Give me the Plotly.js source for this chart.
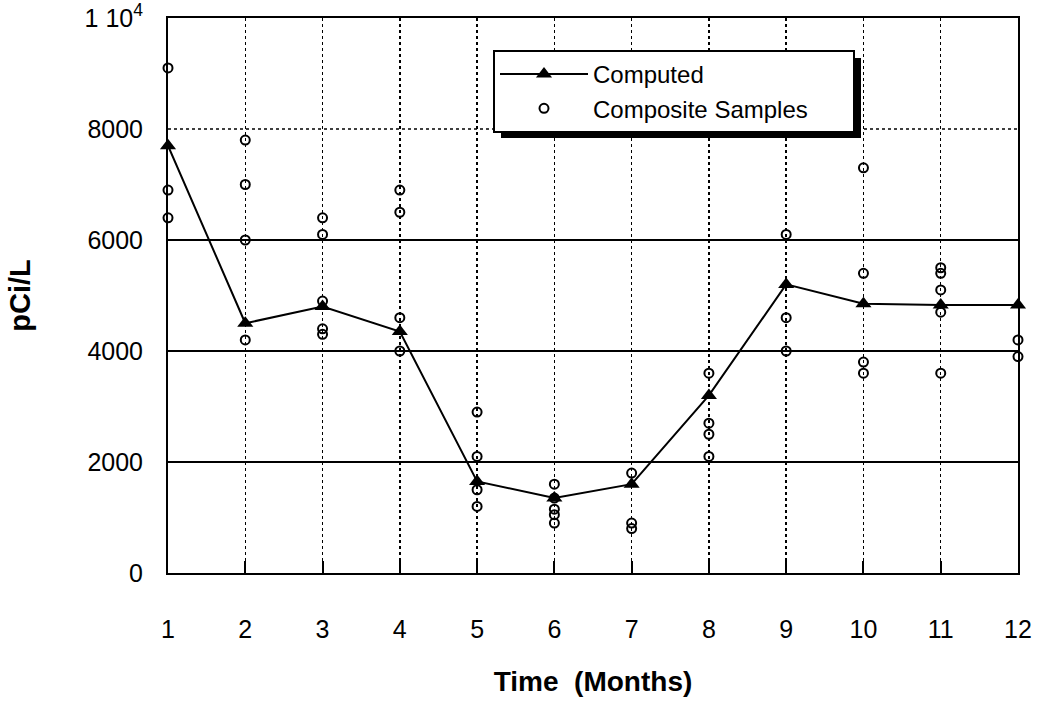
<!DOCTYPE html>
<html>
<head>
<meta charset="utf-8">
<script src="https://cdn.plot.ly/plotly-3.0.1.min.js"></script>
<style>
  html, body { margin: 0; padding: 0; background: #ffffff; }
  #chart { width: 1043px; height: 702px; }
</style>
</head>
<body>
<div id="chart"></div>
<script>
// ---- Data ----
const months = [1, 2, 3, 4, 5, 6, 7, 8, 9, 10, 11, 12];
const computed = [7700, 4500, 4800, 4350, 1650, 1350, 1600, 3200, 5200, 4850, 4830, 4830];

const samplesM1 = [9100, 6900, 6400];
const samplesM2 = [7800, 7000, 6000, 4200];
const samplesM3 = [6400, 6100, 4900, 4400, 4300];
const samplesM4 = [6900, 6500, 4600, 4000];
const samplesM5 = [2900, 2100, 1500, 1200];
const samplesM6 = [1600, 1350, 1150, 1050, 900];
const samplesM7 = [1800, 900, 800];
const samplesM8 = [3600, 2700, 2500, 2100];
const samplesM9 = [6100, 4600, 4000];
const samplesM10 = [7300, 5400, 3800, 3600];
const samplesM11 = [5500, 5400, 5100, 4700, 3600];
const samplesM12 = [4200, 3900];

const yTickVals = [0, 2000, 4000, 6000, 8000, 10000];
const yTickText = ['0', '2000', '4000', '6000', '8000', '1 10<sup>4</sup>'];
const xTickVals = months;
const solidGridY = [2000, 4000, 6000];
const dottedGridY = [8000];

// ---- Build sample scatter arrays ----
const sampleGroups = [samplesM1, samplesM2, samplesM3, samplesM4, samplesM5, samplesM6,
                      samplesM7, samplesM8, samplesM9, samplesM10, samplesM11, samplesM12];
const sampleX = [], sampleY = [];
sampleGroups.forEach((g, i) => g.forEach(v => { sampleX.push(months[i]); sampleY.push(v); }));

const FONT = 'Liberation Sans, Arial, Helvetica, sans-serif';
const LEGEND_BOX_WIDTH = 360;

const traces = [
  {
    x: months, y: computed, name: 'Computed', type: 'scatter', mode: 'lines+markers',
    line: { color: '#000', width: 2 },
    marker: { symbol: 'triangle-up', size: 14, color: '#000' },
    cliponaxis: false
  },
  {
    x: sampleX, y: sampleY, name: 'Composite Samples', type: 'scatter', mode: 'markers',
    marker: { symbol: 'circle-open', size: 9, color: '#000', line: { width: 2, color: '#000' } },
    cliponaxis: false
  }
];

const shapes = [];
solidGridY.forEach(v => shapes.push({
  type: 'line', xref: 'paper', yref: 'y', x0: 0, x1: 1, y0: v, y1: v,
  line: { color: '#000', width: 2 }, layer: 'below'
}));
dottedGridY.forEach(v => shapes.push({
  type: 'line', xref: 'paper', yref: 'y', x0: 0, x1: 1, y0: v, y1: v,
  line: { color: '#000', width: 1.5, dash: 'dot' }, layer: 'below'
}));

const layout = {
  width: 1043, height: 702,
  paper_bgcolor: '#fff', plot_bgcolor: '#fff',
  margin: { l: 168, r: 25, t: 18, b: 129 },
  font: { family: FONT, color: '#000', size: 25 },
  showlegend: true,
  legend: {
    x: (493 - 168) / 850, y: (573 - 50) / 555, xanchor: 'left', yanchor: 'top',
    bgcolor: '#fff', bordercolor: '#000', borderwidth: 2,
    font: { family: FONT, size: 24, color: '#000' },
    itemwidth: 88, tracegroupgap: 0
  },
  xaxis: {
    range: [1, 12], tickvals: xTickVals, ticktext: xTickVals.map(String),
    ticks: 'inside', ticklen: 12, tickwidth: 2, tickcolor: '#000',
    showgrid: true, gridcolor: '#000', gridwidth: 1.5, griddash: 'dot',
    showline: true, linecolor: '#000', linewidth: 2, mirror: true,
    zeroline: false, ticklabelstandoff: 33,
    tickfont: { family: FONT, size: 25, color: '#000' },
    title: { text: 'Time  (Months)', font: { family: FONT, size: 28, color: '#000', weight: 'bold' }, standoff: 29 }
  },
  yaxis: {
    range: [0, 10000], tickvals: yTickVals, ticktext: yTickText,
    ticks: '', showgrid: false,
    showline: true, linecolor: '#000', linewidth: 2, mirror: true,
    zeroline: false, ticklabelstandoff: 18,
    tickfont: { family: FONT, size: 25, color: '#000' },
    title: { text: 'pCi/L', font: { family: FONT, size: 29, color: '#000', weight: 'bold' }, standoff: 45 }
  },
  shapes: shapes
};

function widenLegend(gd) {
  const bg = gd.querySelector('.legend .bg');
  if (bg) bg.setAttribute('width', LEGEND_BOX_WIDTH);
  const clip = gd.querySelector('.legend').parentNode.querySelector('clipPath[id^="legend"] rect');
  return bg;
}

Plotly.newPlot('chart', traces, layout, { displayModeBar: false, staticPlot: true }).then(gd => {
  const bg = widenLegend(gd);
  if (!bg) return;
  const r = bg.getBoundingClientRect();
  const c = gd.getBoundingClientRect();
  const fl = gd._fullLayout;
  const px2x = p => (p - c.left - fl._size.l) / fl._size.w;
  const px2y = p => 1 - (p - c.top - fl._size.t) / fl._size.h;
  const off = 6;
  const left = r.left + 1, top = r.top + 1;
  const shadow = {
    type: 'rect', xref: 'paper', yref: 'paper',
    x0: px2x(left + off), x1: px2x(left + LEGEND_BOX_WIDTH + off),
    y0: px2y(top + off), y1: px2y(top + r.height - 2 + off + 1),
    fillcolor: '#000', line: { width: 0 }, layer: 'above'
  };
  return Plotly.relayout(gd, { shapes: shapes.concat([shadow]) }).then(() => widenLegend(gd));
});
</script>
</body>
</html>
